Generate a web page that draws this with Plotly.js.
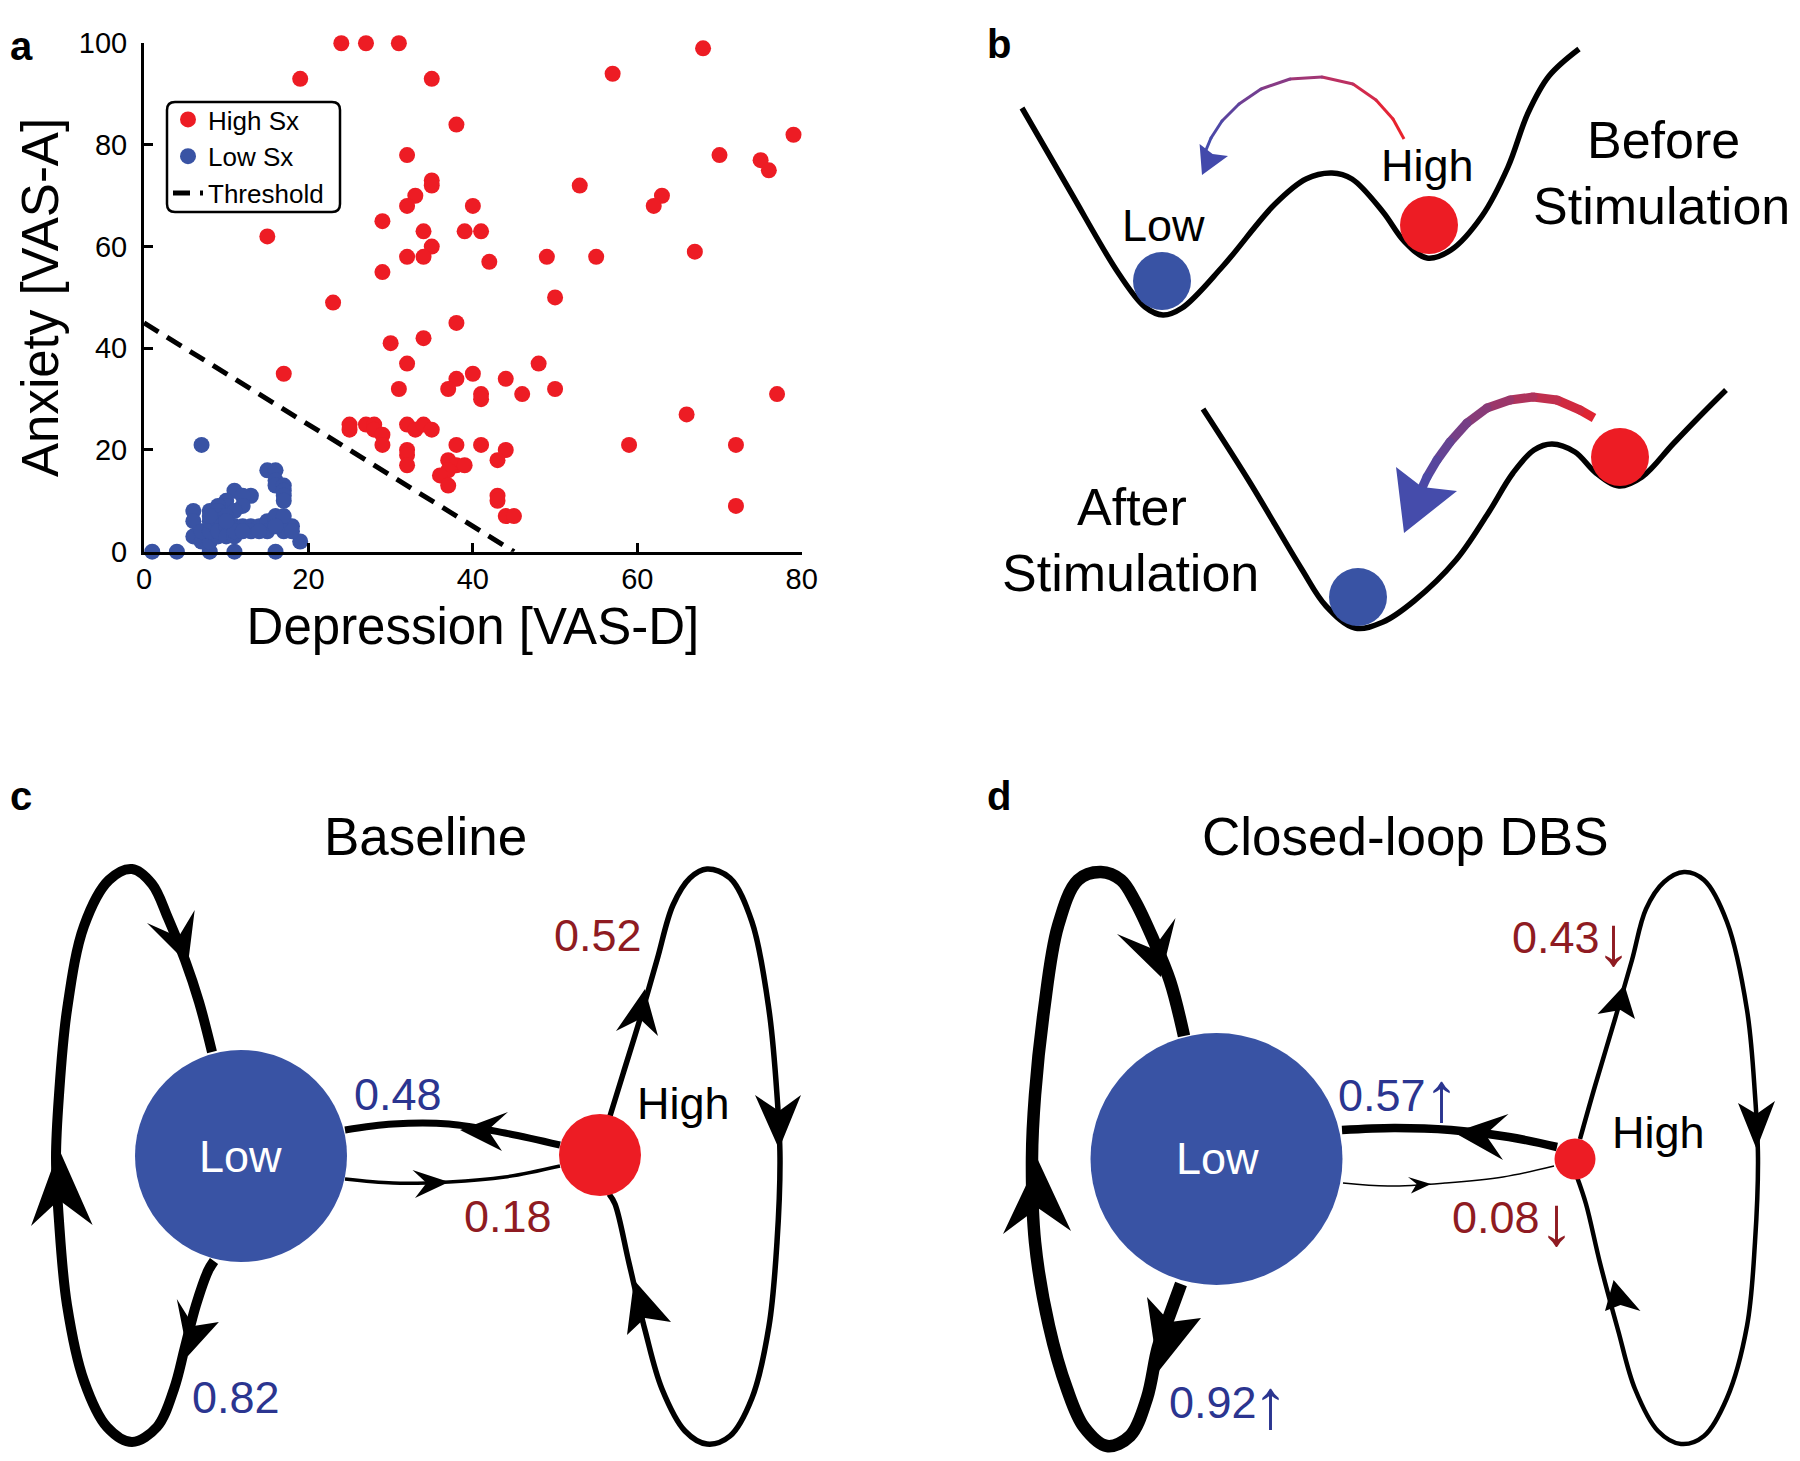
<!DOCTYPE html>
<html><head><meta charset="utf-8">
<script src="https://cdn.plot.ly/plotly-3.0.1.min.js"></script>
<style>html,body{margin:0;padding:0;background:#fff}#chart{width:1800px;height:1461px}</style>
</head><body><div id="chart"></div>
<script>
// ---------- Panel a data ----------
const xTicks = [0, 20, 40, 60, 80];
const yTicks = [0, 20, 40, 60, 80, 100];
const highX = [24,27,31,19,35,38,32,35,35,33,32,40,29,34,39,41,15,35,32,34,29,42,49,55,67,50,68,57,79,70,75,76,53,63,62,23,38,30,34,32,48,17,40,38,44,37,31,50,41,41,46,77,66,25,25,27,28,28,29,29,32,33,34,35,32,32,32,38,41,44,43,37,38,39,37,36,37,59,72,72,43,43,44,45];
const highY = [100,100,100,93,93,84,78,73,72,70,68,68,65,63,63,63,62,60,58,58,55,57,58,58,59,50,99,94,82,78,77,75,72,70,68,49,45,41,42,37,37,35,35,34,34,32,32,32,31,30,31,31,27,25,24,25,25,24,23,21,25,24,25,24,20,19,17,21,21,20,18,18,17,17,16,15,13,21,21,9,11,10,7,7];
const lowX = [7,1,4,8,11,16,19,15,16,16,16,17,17,17,17,11,13,12,10,12,10,11,9,8,9,6,6,6,7,8,9,7,8,8,9,9,9,10,10,10,11,11,12,13,14,15,16,17,18,16,17,11,13,15,17,18,14,12,16,8,10];
const lowY = [21,0,0,0,0,0,2,16,16,14,13,13,12,11,10,12,11,11,10,9,9,8,9,8,8,8,6,3,2,2,3,4,4,6,6,4,7,7,5,3,3,5,5,5,5,6,6,6,5,7,7,4,4,4,4,4,4,4,5,7,6];
const thresholdX = [0, 45];
const thresholdY = [45, 0];
const seriesNames = ['High Sx', 'Low Sx', 'Threshold'];

// ---------- Panel b (schematic, page pixels) ----------
const wellTopX = [1022,1070,1119,1145,1163,1182,1223,1275,1306,1332,1352,1383,1404,1427,1451,1482,1508,1528,1549,1579];
const wellTopY = [108,191,274,307,315,308,266,204,179,173,179,212,241,258,250,216,167,113,76,49];
const wellBotX = [1203,1249,1301,1326,1355,1383,1414,1456,1487,1513,1534,1552,1575,1596,1619,1642,1673,1699,1726];
const wellBotY = [409,481,568,606,628,622,601,560,515,473,450,444,452,473,486,477,444,417,390];
const topArrowX = [1404,1393,1376,1353,1322,1290,1261,1239,1222,1211,1206];
const topArrowY = [139,119,100,84,77,79,89,104,121,138,150];
const topArrowColors = ['#e8232c','#e32437','#d22a4c','#bb3062','#a03675','#873b85','#713f92','#5d439d','#4e47a6','#454bab'];
const botArrowX = [1594,1580,1557,1533,1510,1487,1467,1450,1437,1427,1422];
const botArrowY = [418,410,400,397,400,408,423,442,460,477,488];
const botArrowColors = ['#df2432','#d02a40','#c02f4e','#ae335c','#9b376a','#883b78','#763f86','#654392','#57469d','#4c49a6'];
const ballX = [1162, 1429, 1358, 1620];
const ballY = [281, 225, 597, 457];
const ballColors = ['#3953a4', '#ed1c24', '#3953a4', '#ed1c24'];

// ---------- Panels c, d (schematic, page pixels) ----------
const cLeftLoopX = [212,199,185,168,152,132,109,84,67,59,56,59,67,84,107,132,157,174,185,196,208,214];
const cLeftLoopY = [1052,1002,960,918,884,869,880,926,1010,1095,1158,1221,1305,1381,1427,1442,1427,1389,1347,1305,1271,1261];
const cRightLoopX = [610,623,640,657,673,690,707,730,752,769,777,780,777,769,752,730,707,685,662,645,629,615,609];
const cRightLoopY = [1116,1074,1019,960,905,878,869,878,922,1010,1095,1158,1242,1326,1398,1436,1444,1431,1389,1330,1263,1204,1194];
const cTopX = [560,505,449,393,345]; const cTopY = [1145,1133,1124,1124,1130];
const cBotX = [345,393,449,505,560]; const cBotY = [1179,1183,1182,1177,1166];
const dLeftLoopX = [1184,1170,1153,1135,1121,1101,1078,1058,1044,1035,1032,1035,1049,1067,1084,1107,1130,1147,1158,1170,1181];
const dLeftLoopY = [1036,981,939,901,880,872,880,926,1010,1095,1158,1242,1326,1389,1427,1446,1436,1398,1347,1314,1284];
const dRightLoopX = [1580,1595,1615,1632,1646,1664,1684,1704,1727,1747,1755,1758,1755,1747,1727,1704,1681,1658,1635,1618,1600,1586,1577];
const dRightLoopY = [1139,1086,1019,960,909,882,872,880,922,1010,1095,1158,1242,1326,1398,1436,1444,1431,1389,1330,1263,1204,1177];
const dTopX = [1557,1509,1451,1394,1342]; const dTopY = [1147,1137,1130,1128,1130];
const dBotX = [1343,1388,1445,1503,1554]; const dBotY = [1183,1186,1183,1177,1166];
const nodeX = [241, 600, 1216.5, 1575];
const nodeY = [1156, 1155, 1159, 1159];
const nodeSize = [212, 82, 252, 41];
const nodeColors = ['#3953a4', '#ed1c24', '#3953a4', '#ed1c24'];
// arrowheads: tip, barb, notch, barb
const heads = [
  [[188,964],[147,923],[178.5,937],[194.7,910]],
  [[59,1149],[31,1226],[59,1200],[92.6,1225]],
  [[188,1356],[176.8,1299],[193.6,1326],[218.9,1322]],
  [[645,989],[616,1031],[640,1019],[658,1036]],
  [[779,1149],[755,1095],[779,1111],[801,1095]],
  [[634,1280],[627,1335],[645,1318],[671,1322]],
  [[460,1130],[508,1112],[488,1130],[502,1151]],
  [[449,1182],[412.5,1170],[426.5,1183],[415,1198]],
  [[1161,977],[1117,934],[1153,949],[1175.5,918]],
  [[1038,1160],[1003,1234],[1038,1208],[1071,1231]],
  [[1158,1372],[1147,1297],[1170,1322],[1201,1318]],
  [[1624.5,985],[1597.5,1014],[1620.5,1010],[1635,1019]],
  [[1756.5,1149],[1738,1103],[1756.5,1114],[1775,1101]],
  [[1613.6,1280],[1605,1311],[1620.5,1305],[1640.5,1311]],
  [[1454,1132.5],[1508.5,1114],[1485.5,1134.6],[1503,1160]],
  [[1431,1184],[1408,1177],[1416.6,1184],[1411,1193.5]],
  [[1202,175],[1199.6,144],[1212.6,154],[1228,156]],
  [[1404,533],[1396,467],[1422,487],[1457,491]]
];
const headColors = ['#000','#000','#000','#000','#000','#000','#000','#000','#000','#000','#000','#000','#000','#000','#000','#000','#4249ab','#454cab'];

const FONT = 'Liberation Sans, Arial, Helvetica, sans-serif';
const RED_TXT = '#8f1b22', BLUE_TXT = '#2b3590';

const traces = [];
const ov = {xaxis: 'x2', yaxis: 'y2', showlegend: false, hoverinfo: 'skip'};

// Panel a
traces.push({x: highX, y: highY, type: 'scatter', mode: 'markers', name: seriesNames[0],
  marker: {color: '#ed1c24', size: 16, opacity: 1}, cliponaxis: false});
traces.push({x: lowX, y: lowY, type: 'scatter', mode: 'markers', name: seriesNames[1],
  marker: {color: '#3953a4', size: 16, opacity: 1}, cliponaxis: false});
traces.push({x: thresholdX, y: thresholdY, type: 'scatter', mode: 'lines', name: seriesNames[2],
  line: {color: '#000', width: 5, dash: '17px,10px'}, cliponaxis: false});

function curve(x, y, w, color) {
  traces.push(Object.assign({x: x, y: y, type: 'scatter', mode: 'lines',
    line: {color: color || '#000', width: w, shape: 'spline', smoothing: 1}}, ov));
}
function gradient(x, y, colors, w) {
  for (let i = 0; i < x.length - 1; i++) {
    traces.push(Object.assign({x: [x[i], x[i+1]], y: [y[i], y[i+1]], type: 'scatter', mode: 'lines',
      line: {color: colors[i], width: w}}, ov));
  }
  traces.push(Object.assign({x: x.slice(1, -1), y: y.slice(1, -1), type: 'scatter', mode: 'markers',
    marker: {color: colors.slice(1), size: w, opacity: 1}}, ov));
}

// Panel b
curve(wellTopX, wellTopY, 5.5);
curve(wellBotX, wellBotY, 5.5);
gradient(topArrowX, topArrowY, topArrowColors, 3);
gradient(botArrowX, botArrowY, botArrowColors, 9);
traces.push(Object.assign({x: ballX, y: ballY, type: 'scatter', mode: 'markers',
  marker: {color: ballColors, size: 58, opacity: 1}}, ov));

// Panels c, d
curve(cLeftLoopX, cLeftLoopY, 10);
curve(cRightLoopX, cRightLoopY, 5.5);
curve(cTopX, cTopY, 7);
curve(cBotX, cBotY, 3.5);
curve(dLeftLoopX, dLeftLoopY, 12.5);
curve(dRightLoopX, dRightLoopY, 4.5);
curve(dTopX, dTopY, 8.5);
curve(dBotX, dBotY, 1.5);
traces.push(Object.assign({x: nodeX, y: nodeY, type: 'scatter', mode: 'markers',
  marker: {color: nodeColors, size: nodeSize, opacity: 1, line: {width: 0}}}, ov));

const shapes = heads.map((h, i) => ({
  type: 'path', xref: 'x2', yref: 'y2', layer: 'above',
  path: 'M' + h.map(p => p[0] + ',' + p[1]).join(' L') + ' Z',
  fillcolor: headColors[i], line: {width: 0}
}));
// rounded legend frame (panel a)
shapes.push({type: 'path', xref: 'x2', yref: 'y2', layer: 'below',
  path: 'M175,102 L332,102 Q340,102 340,110 L340,204 Q340,212 332,212 L175,212 Q167,212 167,204 L167,110 Q167,102 175,102 Z',
  fillcolor: '#fff', line: {color: '#000', width: 2.5}});

function ann(text, x, y, size, color, bold) {
  return {text: bold ? '<b>' + text + '</b>' : text, x: x, y: y, xref: 'x2', yref: 'y2',
    showarrow: false, xanchor: 'center', yanchor: 'middle',
    font: {family: FONT, size: size, color: color || '#000'}};
}
const annotations = [
  ann('a', 21, 46, 40, '#000', true),
  ann('b', 999, 44, 40, '#000', true),
  ann('c', 21, 796, 40, '#000', true),
  ann('d', 999, 796, 40, '#000', true),
  ann('Low', 1163, 225, 45), ann('High', 1427, 165, 45),
  ann('Before', 1663, 140, 52), ann('Stimulation', 1661, 206, 52),
  ann('After', 1132, 507, 52), ann('Stimulation', 1130, 573, 52),
  ann('Baseline', 425, 836, 53),
  ann('Low', 240, 1156, 45, '#fff'), ann('High', 683.5, 1103, 45),
  ann('0.52', 597.6, 935.5, 45, RED_TXT), ann('0.48', 398.4, 1094.6, 45, BLUE_TXT),
  ann('0.18', 507.9, 1216.7, 45, RED_TXT), ann('0.82', 235.7, 1397.6, 45, BLUE_TXT),
  ann('Closed-loop DBS', 1405, 836, 53),
  ann('Low', 1217, 1158, 45, '#fff'), ann('High', 1658, 1132.5, 45),
  ann('0.43', 1556, 937, 45, RED_TXT), ann('\u2193', 1613, 941, 70, RED_TXT),
  ann('0.57', 1382, 1095, 45, BLUE_TXT), ann('\u2191', 1441, 1097, 70, BLUE_TXT),
  ann('0.08', 1495.5, 1217, 45, RED_TXT), ann('\u2193', 1556, 1221, 70, RED_TXT),
  ann('0.92', 1213, 1402, 45, BLUE_TXT), ann('\u2191', 1270, 1404, 70, BLUE_TXT)
];

const axisCommon = {ticks: 'inside', ticklen: 9, tickwidth: 3, tickcolor: '#000', showline: true,
  linewidth: 3, linecolor: '#000', showgrid: false, zeroline: false, fixedrange: true,
  tickfont: {family: FONT, size: 29, color: '#000'}};

const layout = {
  width: 1800, height: 1461, margin: {l: 0, r: 0, t: 0, b: 0},
  paper_bgcolor: '#fff', plot_bgcolor: 'rgba(0,0,0,0)',
  font: {family: FONT, color: '#000'}, hovermode: false, showlegend: true,
  xaxis: Object.assign({}, axisCommon, {domain: [0.08, 0.4454], range: [0, 80], anchor: 'y',
    tickvals: xTicks, ticktext: xTicks.map(String),
    title: {text: 'Depression [VAS-D]', font: {family: FONT, size: 51, color: '#000'}, standoff: 14}}),
  yaxis: Object.assign({}, axisCommon, {domain: [0.6224, 0.9704], range: [0, 100], anchor: 'x',
    tickvals: yTicks, ticktext: yTicks.map(String), ticklabelstandoff: 8,
    title: {text: 'Anxiety [VAS-A]', font: {family: FONT, size: 51, color: '#000'}, standoff: 4}}),
  xaxis2: {domain: [0, 1], range: [0, 1800], visible: false, anchor: 'y2', fixedrange: true},
  yaxis2: {domain: [0, 1], range: [1461, 0], visible: false, anchor: 'x2', fixedrange: true},
  legend: {x: 168 / 1800, y: 1 - 96 / 1461, xanchor: 'left', yanchor: 'top', bgcolor: 'rgba(0,0,0,0)',
    borderwidth: 0, font: {family: FONT, size: 26, color: '#000'},
    tracegroupgap: 0, itemwidth: 30},
  shapes: shapes, annotations: annotations
};

Plotly.newPlot('chart', traces, layout, {displayModeBar: false, staticPlot: true});
</script></body></html>
